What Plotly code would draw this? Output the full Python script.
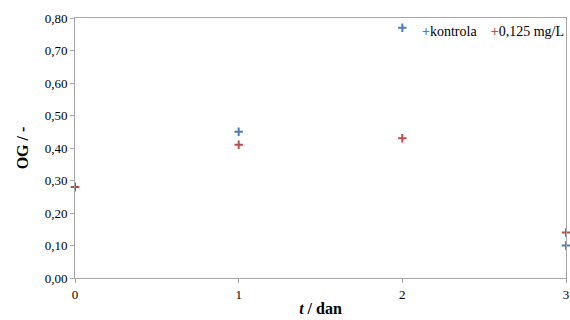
import plotly.graph_objects as go

t_days = [0, 1, 2, 3]
kontrola = [0.28, 0.45, 0.77, 0.10]
tretman = [0.28, 0.41, 0.43, 0.14]
series_names = ["kontrola", "0,125 mg/L"]
y_ticks = [0.0, 0.1, 0.2, 0.3, 0.4, 0.5, 0.6, 0.7, 0.8]
y_tick_labels = ["0,00", "0,10", "0,20", "0,30", "0,40", "0,50", "0,60", "0,70", "0,80"]

blue = "#4a7ebb"
red = "#be4b48"
font_family = "Liberation Serif"

fig = go.Figure()
for vals, name, col in [(kontrola, series_names[0], blue), (tretman, series_names[1], red)]:
    fig.add_trace(go.Scatter(
        x=t_days, y=vals, mode="markers", name=name, showlegend=False,
        marker=dict(symbol="cross-thin", size=6, color=col, line=dict(color=col, width=2)),
        cliponaxis=False,
    ))

axis_common = dict(showline=True, linecolor="#a6a6a6", linewidth=1, mirror=True,
                   showgrid=False, zeroline=False, ticks="outside", ticklen=4,
                   tickcolor="#a6a6a6", ticklabeloverflow="allow",
                   tickfont=dict(family=font_family, size=13, color="#000"))

legend_text = ("<span style='color:%s'><b>+</b></span>%s&nbsp;&nbsp;&nbsp;&nbsp;<span style='color:%s'><b>+</b></span>%s"
               % (blue, series_names[0], red, series_names[1]))
fig.add_annotation(xref="paper", yref="paper", x=1, y=0.985, xanchor="right", yanchor="top",
                   text=legend_text, showarrow=False,
                   font=dict(family=font_family, size=14, color="#000"))

fig.update_layout(
    width=570, height=320,
    margin=dict(l=75, r=1, t=18, b=42),
    plot_bgcolor="white", paper_bgcolor="white",
    font=dict(family=font_family, color="#000"),
    showlegend=False,
    xaxis=dict(range=[0, 3], tickvals=t_days, ticktext=[str(v) for v in t_days],
               title=dict(text="<b><i>t</i> / dan</b>", font=dict(family=font_family, size=16), standoff=2),
               **axis_common),
    yaxis=dict(range=[0, 0.8], tickvals=y_ticks, ticktext=y_tick_labels,
               title=dict(text="<b>OG / -</b>", font=dict(family=font_family, size=16), standoff=12),
               **axis_common),
)

fig.write_html("out.html")
